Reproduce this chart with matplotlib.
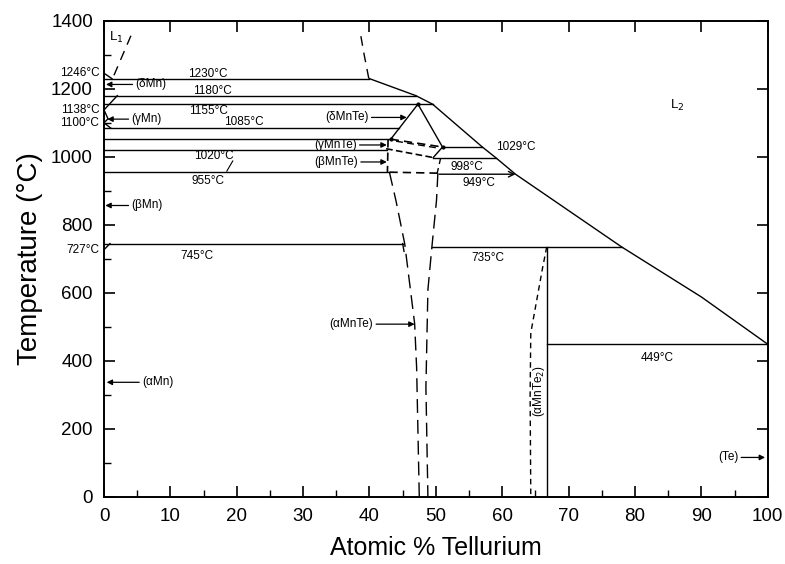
import matplotlib.pyplot as plt
import numpy as np

plt.rcParams['font.family'] = ['Liberation Sans', 'DejaVu Sans']

# liquidus on the Te-rich side
liq_x = [40, 47, 49.5, 57, 59, 62, 78, 90, 100]
liq_t = [1230, 1180, 1155, 1029, 998, 949, 735, 588, 449]

# horizontal invariant lines: temperature, start, end (at.% Te)
iso_t = [1230, 1180, 1155, 1085, 1052, 1020, 955, 745, 1029, 998, 735, 449]
iso_x0 = [0, 0, 0, 0, 0, 0, 0, 0, 51, 49.6, 49.4, 66.7]
iso_x1 = [40, 47, 49.5, 44.4, 43.2, 42.7, 43, 45, 57, 59, 78, 100]
eut_949 = (50.5, 62, 949)

# delta-MnTe field
dmt_x = [43.2, 47.3, 51]
dmt_t = [1052, 1155, 1029]

# alpha-MnTe boundaries (dashed)
amt_left_x = [43, 44, 45.3, 46.8, 47.1, 47.5]
amt_left_t = [955, 870, 745, 510, 380, 0]
amt_right_x = [50.3, 50.1, 49.4, 48.8, 48.5, 48.8]
amt_right_t = [952, 873, 735, 609, 323, 0]

# alpha-MnTe2
mt2_x = 66.7
mt2_dash_x = [66.7, 66.1, 65.2, 64.3, 64.2, 64.3]
mt2_dash_t = [735, 676, 579, 482, 300, 0]

# liquid miscibility gap edges
l1_x = [1.5, 4.4]
l1_t = [1240, 1372]
l2_x = [38.7, 39.2, 39.9]
l2_t = [1355, 1300, 1230]

# invariant temperatures written along the lines
iso_labels = ['1230°C', '1180°C', '1155°C', '1085°C', '1020°C', '955°C', '745°C',
              '1029°C', '998°C', '949°C', '735°C', '449°C']
iso_lab_x = [15.7, 16.4, 15.7, 21, 16.6, 15.7, 14, 62, 54.6, 56.5, 57.8, 83.3]
iso_lab_t = [1245, 1195, 1136, 1102, 1002, 929, 708, 1030, 969, 922, 703, 409]

# Mn-side temperatures, left of the axis
mn_temps = [1246, 1138, 1100, 727]

# phase names with arrows: label, T, arrow tail x, arrow head x
ph_names = ['(δMn)', '(γMn)', '(βMn)', '(αMn)']
ph_t = [1213, 1111, 857, 337]
ph_tail = [4.3, 3.7, 3.7, 5.3]
ph_head = [0.3, 0.5, 0.2, 0.4]

mnte_names = ['(δMnTe)', '(γMnTe)', '(βMnTe)', '(αMnTe)']
mnte_t = [1116, 1035, 985, 508]
mnte_tail = [40.3, 38.5, 38.7, 41]
mnte_head = [45.6, 42.6, 42.6, 46.8]

fig, ax = plt.subplots(figsize=(7.85, 5.64), dpi=100)
fig.subplots_adjust(left=0.1325, right=0.978, bottom=0.119, top=0.963)

lw = 1.0
k = 'black'

ax.plot(liq_x, liq_t, color=k, lw=lw)
for t, x0, x1 in zip(iso_t, iso_x0, iso_x1):
    ax.plot([x0, x1], [t, t], color=k, lw=lw)
ax.annotate('', xy=(eut_949[1], eut_949[2]), xytext=(eut_949[0], eut_949[2]),
            arrowprops=dict(arrowstyle='->', color=k, lw=lw, shrinkA=0, shrinkB=0))

ax.plot(dmt_x, dmt_t, color=k, lw=lw)
ax.plot(dmt_x, dmt_t, 'o', color=k, ms=2)

# gamma / beta MnTe fields
ax.plot([43.2, 51], [1052, 1029], color=k, lw=1.2, dashes=(5, 3))
ax.plot([44.0, 50.6], [1046, 1025], color=k, lw=1.0, dashes=(5, 3))
ax.plot([42.5, 49.6], [1024, 998], color=k, lw=1.2, dashes=(4, 2))
ax.plot([49.6, 51], [998, 1029], color=k, lw=lw)
ax.plot([43, 50.5], [955, 952], color=k, lw=1.2, dashes=(5, 3))
ax.plot([50.7, 50.2], [995, 952], color=k, lw=lw, dashes=(4, 3))
ax.plot([42.8, 42.7], [1052, 955], color=k, lw=1.2, dashes=(5, 3))

ax.plot(amt_left_x, amt_left_t, color=k, lw=lw, dashes=(10, 5))
ax.plot(amt_right_x, amt_right_t, color=k, lw=lw, dashes=(10, 5))
ax.plot([45, 45.2], [745, 722], color=k, lw=lw)

ax.plot([mt2_x, mt2_x], [0, 735], color=k, lw=lw)
ax.plot(mt2_dash_x, mt2_dash_t, color=k, lw=lw, dashes=(4, 3))

ax.plot(l1_x, l1_t, color=k, lw=lw, dashes=(7, 5))
ax.plot(l2_x, l2_t, color=k, lw=lw, dashes=(7, 5))

# small Mn-side boundaries
ax.plot([0, 1.2], [1246, 1230], color=k, lw=lw)
ax.plot([0, 2], [1138, 1180], color=k, lw=lw)
ax.plot([0, 0.6, 0], [1138, 1112, 1100], color=k, lw=lw)
ax.plot([0, 1], [1100, 1085], color=k, lw=lw)
ax.plot([0, 0.9], [727, 745], color=k, lw=lw)

fs = 8.5
for s, x, t in zip(iso_labels, iso_lab_x, iso_lab_t):
    ax.text(x, t, s, fontsize=fs, ha='center', va='center')
ax.plot([19.4, 18.5], [988, 958], color=k, lw=0.8)

for t in mn_temps:
    ax.text(-0.7, t, f'{t}°C', fontsize=fs, ha='right', va='center', clip_on=False)

for s, t, x0, x1 in zip(ph_names, ph_t, ph_tail, ph_head):
    ax.annotate('', xy=(x1, t), xytext=(x0, t),
                arrowprops=dict(arrowstyle='-|>', color=k, lw=0.9, mutation_scale=8,
                                shrinkA=0, shrinkB=0))
    ax.text(x0 + 0.4, t, s, fontsize=fs, ha='left', va='center')

for s, t, x0, x1 in zip(mnte_names, mnte_t, mnte_tail, mnte_head):
    ax.annotate('', xy=(x1, t), xytext=(x0, t),
                arrowprops=dict(arrowstyle='-|>', color=k, lw=0.9, mutation_scale=8,
                                shrinkA=0, shrinkB=0))
    ax.text(x0 - 0.4, t, s, fontsize=fs, ha='right', va='center')

ax.annotate('', xy=(99.6, 116), xytext=(96, 116),
            arrowprops=dict(arrowstyle='-|>', color=k, lw=0.9, mutation_scale=8,
                            shrinkA=0, shrinkB=0))
ax.text(95.6, 116, '(Te)', fontsize=fs, ha='right', va='center')

ax.text(65.6, 312, '(αMnTe$_2$)', fontsize=fs, rotation=90, ha='center', va='center')
ax.text(1.8, 1350, 'L$_1$', fontsize=9.5, ha='center', va='center')
ax.text(86.3, 1152, 'L$_2$', fontsize=9.5, ha='center', va='center')

ax.set_xlim(0, 100)
ax.set_ylim(0, 1400)
ax.set_xticks(np.arange(0, 101, 10))
ax.set_xticks(np.arange(0, 101, 5), minor=True)
ax.set_yticks(np.arange(0, 1401, 200))
ax.set_yticks(np.arange(0, 1401, 100), minor=True)
ax.tick_params(which='major', direction='in', length=8, width=1.2,
               top=True, right=True, labelsize=13.5, pad=8)
ax.tick_params(which='minor', direction='in', length=5, width=1.0,
               top=False, right=False)
for sp in ax.spines.values():
    sp.set_linewidth(1.4)

ax.set_xlabel('Atomic % Tellurium', fontsize=18, labelpad=8)
ax.set_ylabel('Temperature (°C)', fontsize=20, labelpad=6)

fig.savefig('out.png', dpi=100)
